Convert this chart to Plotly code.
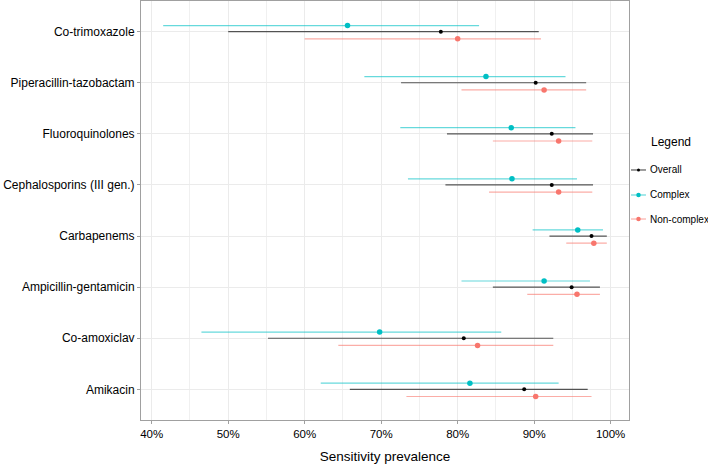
import plotly.graph_objects as go

# antibiotics, bottom to top
drugs = ['Amikacin', 'Co-amoxiclav', 'Ampicillin-gentamicin', 'Carbapenems',
         'Cephalosporins (III gen.)', 'Fluoroquinolones', 'Piperacillin-tazobactam', 'Co-trimoxazole']

overall_est = [88.7, 80.8, 94.9, 97.5, 92.3, 92.3, 90.2, 77.8]
overall_lo = [65.9, 55.2, 84.6, 92.0, 78.4, 78.6, 72.6, 50.0]
overall_hi = [97.0, 92.5, 98.6, 99.5, 97.7, 97.7, 96.8, 90.6]

complex_est = [81.6, 69.8, 91.3, 95.7, 87.1, 87.0, 83.7, 65.6]
complex_lo = [62.1, 46.5, 80.5, 89.8, 73.5, 72.5, 67.8, 41.5]
complex_hi = [93.2, 85.7, 97.3, 99.0, 95.6, 95.4, 94.1, 82.8]

noncomplex_est = [90.2, 82.6, 95.6, 97.8, 93.2, 93.2, 91.3, 80.0]
noncomplex_lo = [73.3, 64.4, 89.1, 94.2, 84.1, 84.6, 80.5, 60.0]
noncomplex_hi = [97.5, 92.5, 98.6, 99.5, 97.6, 97.6, 96.8, 90.9]

xticks = [40, 50, 60, 70, 80, 90, 100]

series = [
    ('Overall', overall_est, overall_lo, overall_hi, '#000000', 'rgba(0,0,0,0.65)', 4, 0.0),
    ('Complex', complex_est, complex_lo, complex_hi, '#00BFC4', 'rgba(0,191,196,0.6)', 5.5, 0.12),
    ('Non-complex', noncomplex_est, noncomplex_lo, noncomplex_hi, '#F8766D', 'rgba(248,118,109,0.6)', 5.5, -0.14),
]

fig = go.Figure()
for name, est, lo, hi, col, lcol, size, off in series:
    ypos = [i + 1 + off for i in range(len(drugs))]
    fig.add_trace(go.Scatter(
        x=est, y=ypos, mode='markers', name=name,
        marker=dict(color=col, size=size),
        error_x=dict(type='data', symmetric=False,
                     array=[h - e for h, e in zip(hi, est)],
                     arrayminus=[e - l for e, l in zip(est, lo)],
                     color=lcol, thickness=1.2, width=0)))

# hand-made legend in the right margin (ggplot style short keys)
fig.add_annotation(text='Legend', xref='paper', yref='paper', x=1.086, y=0.6635,
                   showarrow=False, font=dict(size=12), xanchor='center', yanchor='middle')
key_y = [0.5967, 0.537, 0.4797]
for (name, est, lo, hi, col, lcol, size, off), ky in zip(series, key_y):
    fig.add_shape(type='line', xref='paper', yref='paper', x0=1.0041, x1=1.0348, y0=ky, y1=ky,
                  line=dict(color=lcol, width=1.2))
    r = size / 2 - 0.5
    fig.add_shape(type='circle', xref='paper', yref='paper', xsizemode='pixel', ysizemode='pixel',
                  xanchor=1.0195, yanchor=ky, x0=-r, x1=r, y0=-r, y1=r,
                  fillcolor=col, line=dict(width=0))
    fig.add_annotation(text=name, xref='paper', yref='paper', x=1.039, y=ky, showarrow=False,
                       font=dict(size=10), xanchor='left', yanchor='middle')

fig.update_layout(
    width=708, height=466, showlegend=False,
    margin=dict(l=141, r=79, t=1, b=46),
    paper_bgcolor='white', plot_bgcolor='white',
    font=dict(family='Liberation Sans, Arial, sans-serif', color='black'),
    xaxis=dict(range=[38.6, 102.4], tickvals=xticks, ticktext=[f'{t}%' for t in xticks],
               tickfont=dict(size=11.5), showgrid=True, gridcolor='#ebebeb',
               minor=dict(dtick=5, tick0=0, showgrid=True, gridcolor='#f0f0f0'),
               showline=True, linecolor='#a0a0a0', linewidth=1, mirror=True,
               ticks='outside', ticklen=3, tickcolor='#a0a0a0', zeroline=False, automargin=False,
               title=dict(text='Sensitivity prevalence', font=dict(size=13.5), standoff=12)),
    yaxis=dict(range=[0.4, 8.6], tickvals=list(range(1, len(drugs) + 1)), ticktext=drugs,
               tickfont=dict(size=12), showgrid=True, gridcolor='#ebebeb',
               showline=True, linecolor='#a0a0a0', linewidth=1, mirror=True,
               ticks='outside', ticklen=3, tickcolor='#a0a0a0', zeroline=False, automargin=False),
)

# page body has a default 8px margin; drop it so the figure sits at the window corner
fig.write_html('out.html', config={'displayModeBar': False},
               post_script="document.body.style.margin='0';")
